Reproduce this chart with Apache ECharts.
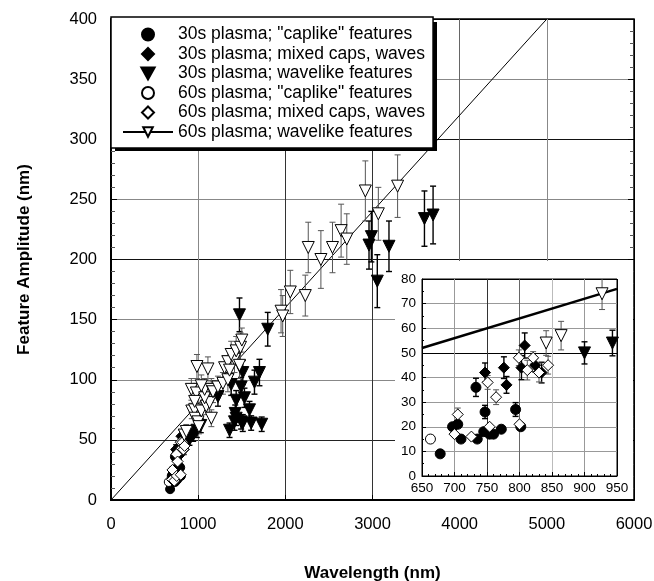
<!DOCTYPE html>
<html>
<head>
<meta charset="utf-8">
<script src="https://cdn.jsdelivr.net/npm/echarts@6/dist/echarts.min.js"></script>
<style>
  html, body { margin: 0; padding: 0; background: #fff; }
  #chart { width: 654px; height: 581px; }
</style>
</head>
<body>
<div id="chart"></div>
<script>
// [wavelength nm, amplitude nm, error bar +/- nm]  (0 = no visible bar)
const caps30 = [[678,9,0],[697,20,0],[705,21,0],[710,15,0],[733,36,3.7],[735,15,0],[745,18,0],[747,26,2.7],[754,17,0],[760,17,0],[772,19,0],[794,27,2.8],[802,20,0]];
const mixed30 = [[747,42,3.9],[776,44,4.4],[780,37,3.4],[803,44,4.9],[808,53,5.1],[824,45,2.7],[834,42,4.2]];
const wave30 = [[900,50,4.5],[943,54,5.2],[985,58,6],[1030,62,6],[1360,58,6],[1417,65,7],[1436,68,6],[1425,72,7],[1493,65,6],[1512,64,7],[1589,75,7],[1608,64,6],[1729,63,6],[1436,83,8],[1531,85,8],[1227,86,8],[1379,96,9],[1493,94,8],[1512,106,10],[1646,98,10],[1703,106,11],[1474,154,14],[1798,142,14],[2960,212,20],[2987,219,21],[3055,182,22],[3189,211,21],[3596,234,23],[3695,237,24]];
const caps60 = [[663,15,0]];
const mixed60 = [[700,17,0],[705,25,2.6],[726,16,0],[751,38,2.8],[754,20,0],[764,32,3.0],[799,48,3.2],[800,21,0],[812,43,4.0],[821,48,2.5],[830,42,3.8],[844,45,3.6]];
const wave60 = [[841,54,5],[864,57,5.8],[927,74,6.4],[958,75,7],[965,68,6],[998,65,6],[1009,61,6],[1036,74,7],[1093,78,7],[1151,68,7],[1131,81,8],[922,92,9],[979,89,8],[1074,85,8],[1074,92,9],[1151,92,9],[1170,90,9],[1227,94,9],[1284,97,9],[1341,100,10],[986,111,10],[1112,109,10],[1303,110,10],[1341,115,11],[1417,117,11],[1379,121,11],[1436,124,12],[1486,127,12],[1501,133,10],[1474,112,11],[1360,108,10],[960,82,8],[1036,95,9],[1951,157,18],[1970,153,17],[2057,173,18],[2229,170,17],[2263,210,21],[2408,200,24],[2541,210,21],[2640,224,22],[2705,217,21],[2918,257,25],[3067,238,22],[3288,261,26]];

// reference line, read at its end points
const lineMain = [[0,0],[5000,400]];
const lineInset = [[650,52],[950,76]];

const mainXTicks = [0, 6000, 1000];
const mainYTicks = [0, 400, 50];
const insetXTicks = [650, 950, 50];
const insetYTicks = [0, 80, 10];

const FONT = '"Liberation Sans", Arial, Helvetica, sans-serif';
const TRI = 'path://M0,0 L10,0 L5,9 Z';
const DIA = 'path://M5,0 L10,5 L5,10 L0,5 Z';

const groups = [
  { name: '30s plasma; "caplike" features', data: caps30, symbol: 'circle', size: 9, isize: 10, fill: '#000', bar: '#000' },
  { name: '30s plasma; mixed caps, waves', data: mixed30, symbol: DIA, size: 11, isize: 11, fill: '#000', bar: '#000' },
  { name: '30s plasma; wavelike features', data: wave30, symbol: TRI, size: 12, isize: 12, fill: '#000', bar: '#000' },
  { name: '60s plasma; "caplike" features', data: caps60, symbol: 'circle', size: 9, isize: 10, fill: '#fff', bar: '#555' },
  { name: '60s plasma; mixed caps, waves', data: mixed60, symbol: DIA, size: 11, isize: 11, fill: '#fff', bar: '#555' },
  { name: '60s plasma; wavelike features', data: wave60, symbol: TRI, size: 12, isize: 12, fill: '#fff', bar: '#555' }
];

function errorBars(g, xi, yi, z) {
  return {
    type: 'custom',
    xAxisIndex: xi, yAxisIndex: yi,
    clip: true, silent: true, z: z,
    encode: { x: 0, y: 1 },
    data: g.data.filter(d => d[2] > 0),
    renderItem: (params, api) => {
      const x = api.value(0), y = api.value(1), e = api.value(2);
      const top = api.coord([x, y + e]);
      const bot = api.coord([x, y - e]);
      const st = { stroke: g.bar, lineWidth: g.fill === '#000' ? 1.4 : 1 };
      return {
        type: 'group',
        children: [
          { type: 'line', shape: { x1: top[0], y1: top[1], x2: bot[0], y2: bot[1] }, style: st },
          { type: 'line', shape: { x1: top[0] - 3, y1: top[1], x2: top[0] + 3, y2: top[1] }, style: st },
          { type: 'line', shape: { x1: bot[0] - 3, y1: bot[1], x2: bot[0] + 3, y2: bot[1] }, style: st }
        ]
      };
    }
  };
}

function points(g, xi, yi, size, z) {
  return {
    name: g.name,
    type: 'scatter',
    xAxisIndex: xi, yAxisIndex: yi,
    clip: true, z: z,
    symbol: g.symbol,
    symbolSize: size,
    data: g.data.map(d => [d[0], d[1]]),
    itemStyle: { color: g.fill, borderColor: '#000', borderWidth: 1, opacity: 1 },
    emphasis: { disabled: true }
  };
}

const series = [];
// the straight line shares its legend entry with the 60s wavelike points
series.push({
  name: '60s plasma; wavelike features',
  type: 'line', xAxisIndex: 0, yAxisIndex: 0, z: 3,
  data: lineMain, symbol: TRI, showSymbol: false, silent: true,
  lineStyle: { color: '#000', width: 1 },
  itemStyle: { color: '#fff', borderColor: '#000', borderWidth: 1 }
});
groups.forEach(g => series.push(errorBars(g, 0, 0, 4)));
groups.forEach(g => series.push(points(g, 0, 0, g.size, 5)));

// inset
series.push({
  type: 'line', xAxisIndex: 1, yAxisIndex: 2, z: 62,
  data: lineInset, showSymbol: false, silent: true,
  lineStyle: { color: '#000', width: 2.5 }
});
groups.forEach(g => series.push(errorBars(g, 1, 2, 63)));
groups.forEach(g => series.push(points(g, 1, 2, g.isize, 64)));

const plain = v => String(v);

const chart = echarts.init(document.getElementById('chart'));
chart.setOption({
  animation: false,
  backgroundColor: '#fff',
  textStyle: { fontFamily: FONT },
  grid: [
    { left: 111, right: 20, top: 19, bottom: 81, outerBoundsMode: 'none', containLabel: false,
      show: true, borderColor: '#000', borderWidth: 1.5, backgroundColor: 'transparent' },
    { left: 422, right: 37, top: 279, bottom: 105, outerBoundsMode: 'none', containLabel: false,
      show: true, borderColor: '#000', borderWidth: 1, backgroundColor: '#fff', z: 60 }
  ],
  graphic: [
    // white patch behind the inset
    { type: 'rect', z: 50, silent: true, shape: { x: 395, y: 261, width: 238, height: 238 }, style: { fill: '#fff' } },
    // hard drop shadow of the legend box
    { type: 'rect', z: 19, silent: true, shape: { x: 115, y: 22, width: 322, height: 129 }, style: { fill: '#000' } }
  ],
  legend: {
    data: groups.map(g => g.name),
    left: 111, top: 17,
    orient: 'vertical',
    selectedMode: false,
    itemWidth: 50, itemHeight: 12, itemGap: 1.5,
    padding: [8.5, 8, 7, 11],
    backgroundColor: '#fff',
    borderColor: '#000', borderWidth: 1.5,
    textStyle: { fontSize: 17.5, lineHeight: 16, color: '#000', fontFamily: FONT },
    z: 20
  },
  xAxis: [
    {
      gridIndex: 0, type: 'value',
      min: mainXTicks[0], max: mainXTicks[1], interval: mainXTicks[2],
      name: 'Wavelength (nm)', nameLocation: 'middle', nameGap: 65,
      nameTextStyle: { fontSize: 17, fontWeight: 'bold', color: '#000', fontFamily: FONT },
      axisLine: { lineStyle: { color: '#000', width: 2 } },
      axisTick: { inside: true, length: 5, lineStyle: { color: '#000' } },
      axisLabel: { fontSize: 16.5, color: '#000', margin: 16, fontFamily: FONT, formatter: plain },
      splitLine: { show: true, lineStyle: { color: ['#000', '#888', '#333', '#333', '#666', '#888', '#000'], width: 1 } }
    },
    {
      gridIndex: 1, type: 'value', z: 61,
      min: insetXTicks[0], max: insetXTicks[1], interval: insetXTicks[2],
      axisLine: { lineStyle: { color: '#000', width: 1 } },
      axisTick: { inside: true, length: 4, lineStyle: { color: '#000' } },
      minorTick: { show: true, splitNumber: 5, length: 2, lineStyle: { color: '#000' } },
      axisLabel: { fontSize: 13.5, color: '#000', margin: 5, fontFamily: FONT, formatter: plain },
      splitLine: { show: true, lineStyle: { color: ['#000', '#999', '#333', '#666', '#bbb', '#999', '#000'], width: 1 } }
    }
  ],
  yAxis: [
    {
      gridIndex: 0, type: 'value',
      min: mainYTicks[0], max: mainYTicks[1], interval: mainYTicks[2],
      name: 'Feature Amplitude (nm)', nameLocation: 'middle', nameGap: 78,
      nameTextStyle: { fontSize: 17, fontWeight: 'bold', color: '#000', fontFamily: FONT },
      axisLine: { lineStyle: { color: '#000', width: 2 } },
      axisTick: { inside: true, length: 6, lineStyle: { color: '#000' } },
      minorTick: { show: true, splitNumber: 5, length: 4, lineStyle: { color: '#555' } },
      axisLabel: { fontSize: 16.5, color: '#000', margin: 14, fontFamily: FONT },
      splitLine: { show: true, lineStyle: { color: ['#000', '#222', '#888', '#888', '#111', '#888', '#111', '#888', '#000'], width: 1 } }
    },
    {
      gridIndex: 0, type: 'value', position: 'right',
      min: mainYTicks[0], max: mainYTicks[1], interval: mainYTicks[2],
      axisLine: { show: false },
      axisTick: { inside: true, length: 6, lineStyle: { color: '#000' } },
      minorTick: { show: true, splitNumber: 5, length: 4, lineStyle: { color: '#555' } },
      axisLabel: { show: false },
      splitLine: { show: false }
    },
    {
      gridIndex: 1, type: 'value', z: 61,
      min: insetYTicks[0], max: insetYTicks[1], interval: insetYTicks[2],
      axisLine: { lineStyle: { color: '#000', width: 1 } },
      axisTick: { inside: true, length: 4, lineStyle: { color: '#000' } },
      minorTick: { show: true, splitNumber: 2, length: 2, lineStyle: { color: '#000' } },
      axisLabel: { fontSize: 13.5, color: '#000', margin: 6, fontFamily: FONT },
      splitLine: { show: true, lineStyle: { color: ['#000', '#999', '#999', '#999', '#999', '#000', '#999', '#999', '#000'], width: 1 } }
    }
  ],
  series: series
});
</script>
</body>
</html>
